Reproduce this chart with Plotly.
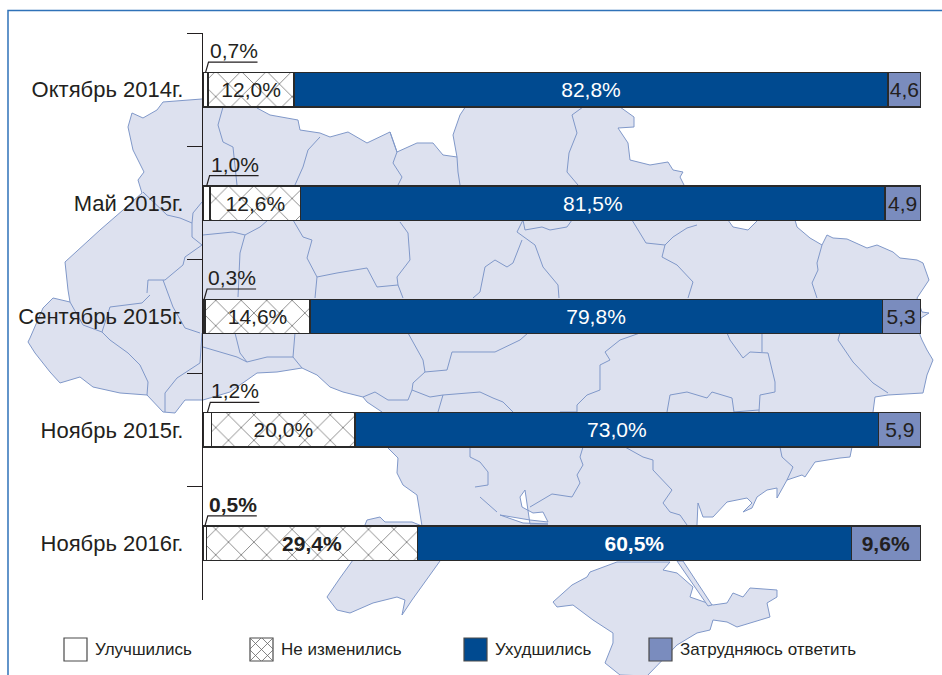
import plotly.graph_objects as go

# ---------- chart data ----------
periods = ["Октябрь 2014г.", "Май 2015г.", "Сентябрь 2015г.", "Ноябрь 2015г.", "Ноябрь 2016г."]
improved = [0.7, 1.0, 0.3, 1.2, 0.5]
unchanged = [12.0, 12.6, 14.6, 20.0, 29.4]
worsened = [82.8, 81.5, 79.8, 73.0, 60.5]
undecided = [4.6, 4.9, 5.3, 5.9, 9.6]
improved_text = ["0,7%", "1,0%", "0,3%", "1,2%", "<b>0,5%</b>"]
unchanged_text = ["12,0%", "12,6%", "14,6%", "20,0%", "<b>29,4%</b>"]
worsened_text = ["82,8%", "81,5%", "79,8%", "73,0%", "<b>60,5%</b>"]
undecided_text = ["4,6", "4,9", "5,3", "5,9", "<b>9,6%</b>"]
legend_names = ["Улучшились", "Не изменились", "Ухудшились", "Затрудняюсь ответить"]

# ---------- decorative background map, page pixels ----------
MAP_MAIN = [(202,99),(223,92),(257,100),(257,108),(270,115),(298,120),(300,130),(320,133),(330,137),(348,132),(367,143),
 (390,132),(397,152),(417,143),(433,143),(443,155),(457,157),(453,135),(460,115),(470,100),(600,90),(620,107),(634,117),
 (634,127),(618,128),(628,143),(630,160),(650,165),(668,162),(673,170),(683,172),(680,177),(684,185),(700,205),(728,220),
 (733,227),(748,230),(758,220),(795,220),(797,227),(810,238),(822,245),(827,235),(833,238),(847,239),(867,248),(877,245),
 (893,252),(900,258),(917,260),(923,263),(929,280),(917,298),(922,312),(929,313),(921,318),(920,335),(922,340),(927,350),
 (933,360),(927,375),(923,393),(888,395),(875,397),(873,412),(860,430),(852,447),(850,457),(840,458),(815,462),(805,477),
 (802,475),(787,480),(777,498),(777,488),(767,490),(757,497),(752,508),(743,512),(752,503),(747,498),(727,502),(713,517),
 (703,517),(698,503),(697,525),(697,540),(445,545),(440,561),(412,600),(402,615),(405,600),(397,597),(373,603),(350,613),
 (337,610),(327,597),(340,578),(353,560),(363,530),(367,520),(380,517),(385,522),(395,522),(412,522),(422,526),(417,495),
 (403,485),(397,473),(398,458),(387,447),(382,412),(367,402),(363,397),(343,392),(330,387),(317,375),(302,368),(277,372),
 (257,373),(230,392),(203,400),(185,400),(175,413),(163,412),(147,395),(120,393),(93,387),(80,377),(60,383),(50,372),
 (35,353),(28,342),(30,338),(43,308),(53,298),(70,302),(68,290),(65,262),(100,230),(123,210),(142,193),(138,180),(144,172),
 (133,150),(128,127),(132,113),(143,118),(157,110),(163,102)]
MAP_CRIMEA = [(617,562),(590,572),(587,577),(572,585),(553,602),(557,607),(573,605),(593,620),(613,633),(613,643),(605,663),
 (620,675),(647,676),(677,645),(697,633),(710,630),(713,620),(727,622),(737,627),(770,617),(767,603),(777,597),(777,590),
 (750,588),(743,597),(733,593),(727,603),(713,605),(690,597),(693,587),(677,573),(663,570),(670,562)]
MAP_SPIT = [(677,561),(683,561),(712,605),(708,606)]
MAP_BAY = [(525,490),(520,497),(522,507),(533,513),(543,512),(548,522),(530,520),(500,515),(523,523),(548,524),(530,524)]
MAP_BORDERS = [
 [(223,107),(218,125),(223,142),(233,147),(237,185)],
 [(320,137),(308,150),(303,167),(295,185)],
 [(390,132),(397,152),(393,163),(402,177),(398,185)],
 [(457,157),(458,172),(460,185)],
 [(583,107),(572,115),(577,133),(569,153),(567,172),(578,185)],
 [(203,235),(233,232),(245,235),(260,227),(268,220)],
 [(245,235),(240,253),(238,297)],
 [(293,220),(303,237),(312,240),(307,258),(317,277),(315,298)],
 [(317,277),(337,273),(367,268),(377,287),(398,285),(403,298)],
 [(400,222),(408,233),(410,260),(397,277),(398,285)],
 [(143,192),(167,215),(180,218),(192,223),(192,237),(202,245),(185,257),(183,265),(165,280),(148,280),(147,293)],
 [(192,223),(193,213),(202,202)],
 [(163,280),(173,307),(185,328),(200,333)],
 [(70,302),(83,325),(102,332),(110,307),(142,303),(150,295)],
 [(102,332),(110,340),(128,353),(140,365),(148,382),(147,395)],
 [(165,412),(165,393),(177,378),(200,363),(202,333)],
 [(203,347),(237,357),(247,362),(267,357),(293,357),(302,368)],
 [(235,333),(240,353),(247,362)],
 [(295,333),(293,357)],
 [(408,333),(423,360),(425,372),(413,383),(412,390),(408,400),(388,400),(375,392),(363,397)],
 [(425,372),(447,370),(452,352),(495,352),(520,340),(528,333)],
 [(412,390),(430,397),(443,395),(438,412)],
 [(443,395),(480,392),(493,398),(503,402),(513,412)],
 [(640,333),(620,340),(605,352),(610,360),(600,365),(600,390),(587,395),(577,405),(577,412),(560,412)],
 [(727,333),(730,340),(743,358),(750,352),(768,353),(775,382),(775,392),(760,395),(759,412)],
 [(762,333),(762,352)],
 [(667,412),(670,395),(687,392),(707,398),(712,392),(732,398),(734,412),(759,410)],
 [(840,333),(838,340),(853,362),(873,383),(888,393)],
 [(583,447),(580,457),(583,465),(577,475),(580,483),(572,497),(552,494),(530,507)],
 [(625,447),(643,457),(653,460),(653,470),(672,490),(663,503),(670,512),(680,515),(687,525)],
 [(780,447),(782,457),(793,467),(787,480)],
 [(470,447),(470,457),(480,462),(488,472),(488,485),(475,487)],
 [(480,497),(497,512)],
 [(523,220),(517,232),(535,245),(543,267),(558,285),(559,298)],
 [(523,220),(525,230),(542,227),(550,230),(567,227),(572,220)],
 [(522,240),(513,263),(507,267),(495,260),(485,267),(480,292),(473,298)],
 [(632,220),(646,243),(665,245),(662,257),(677,265),(693,282),(688,298)],
 [(665,245),(673,237),(687,228),(697,225)],
 [(822,245),(817,263),(818,270),(812,283),(817,298)],
]

# ---------- layout geometry, page pixels ----------
W, H = 942, 675
L, R, T, B = 203, 921, 33, 600
def px(x): return (x - L) / (R - L)
def py(y): return 1 - (y - T) / (B - T)
def poly(points, close=True):
    d = "M" + " L".join(f"{px(x):.5f},{py(y):.5f}" for x, y in points)
    return d + (" Z" if close else "")

INK = "#231f20"
BLUE = "#004a90"
LIGHT = "#7a8cbe"
HATCH = "#666666"
MAP_FILL = "#dde1ef"
MAP_LINE = "#8098c9"
FONT = "Liberation Sans"
hatch = dict(shape="x", size=18, solidity=0.08, fgcolor=HATCH, bgcolor="white", fillmode="replace")

fig = go.Figure()
series = [
    (legend_names[0], improved, None, dict(color="white"), INK),
    (legend_names[1], unchanged, unchanged_text, dict(color="white", pattern=hatch), INK),
    (legend_names[2], worsened, worsened_text, dict(color=BLUE), "white"),
    (legend_names[3], undecided, undecided_text, dict(color=LIGHT), INK),
]
for name, vals, txt, marker, tc in series:
    fig.add_trace(go.Bar(
        name=name, y=periods, x=vals, orientation="h", width=0.304,
        marker=dict(line=dict(color="#2a2a2a", width=1.4), **marker),
        text=txt, textposition="inside" if txt else "none", insidetextanchor="middle",
        textangle=0, constraintext="none", cliponaxis=False,
        textfont=dict(family=FONT, size=21, color=tc), hoverinfo="skip", showlegend=False,
    ))

shapes = []
for poly_pts in (MAP_MAIN, MAP_CRIMEA, MAP_SPIT):
    shapes.append(dict(type="path", xref="paper", yref="paper", layer="below", path=poly(poly_pts),
                       fillcolor=MAP_FILL, line=dict(color=MAP_LINE, width=1)))
shapes.append(dict(type="path", xref="paper", yref="paper", layer="below", path=poly(MAP_BAY),
                   fillcolor="white", line=dict(color=MAP_LINE, width=1)))
shapes.append(dict(type="path", xref="paper", yref="paper", layer="below",
                   path=" ".join(poly(b, close=False) for b in MAP_BORDERS),
                   line=dict(color=MAP_LINE, width=1)))
# page frame (left and top edges)
shapes.append(dict(type="path", xref="paper", yref="paper", layer="below",
                   path=poly([(8, 676), (8, 10.5), (943, 10.5)], close=False),
                   line=dict(color="#2f72b8", width=1.5)))

annotations = []
# leader lines + labels for the tiny first segment
for cat, v, t in zip(periods, improved, improved_text):
    shapes.append(dict(type="path", xref="x", yref="y", xsizemode="pixel", ysizemode="pixel",
                       xanchor=v / 2, yanchor=cat, path="M0,17 L3,27.5 L52,27.5",
                       line=dict(color=INK, width=1.2), layer="above"))
    annotations.append(dict(xref="x", yref="y", x=v / 2, y=cat, text=t, showarrow=False, xanchor="left",
                            yanchor="middle", xshift=2, yshift=39,
                            font=dict(family=FONT, size=21, color=INK)))

# hand-built legend
legend_y0, legend_y1 = 638, 661
legend_x = [64, 250, 464, 649]
legend_fill = ["white", "white", BLUE, LIGHT]
for x0, name, fill in zip(legend_x, legend_names, legend_fill):
    shapes.append(dict(type="rect", xref="paper", yref="paper", x0=px(x0), x1=px(x0 + 23), y0=py(legend_y1), y1=py(legend_y0),
                       fillcolor=fill, line=dict(color="#4a4a4a", width=1.2)))
    annotations.append(dict(xref="paper", yref="paper", x=px(x0 + 29), y=py(649.5), text=name, showarrow=False,
                            xanchor="left", yanchor="middle",
                            font=dict(family=FONT, size=17, color=INK)))
hx = legend_x[1]
cross = []
for k in (-12, 0, 12):
    cross.append(poly([(hx + max(k, 0), legend_y0 + max(-k, 0)), (hx + min(k + 23, 23), legend_y0 + 23 - max(k, 0))], close=False))
    cross.append(poly([(hx + 23 - max(k, 0), legend_y0 + max(-k, 0)), (hx + 23 - min(k + 23, 23), legend_y0 + 23 - max(k, 0))], close=False))
shapes.append(dict(type="path", xref="paper", yref="paper", path=" ".join(cross), line=dict(color=HATCH, width=0.8)))

fig.update_layout(
    width=W, height=H, barmode="stack", bargap=0.7,
    margin=dict(l=L, r=W - R, t=T, b=H - B, autoexpand=False),
    paper_bgcolor="white", plot_bgcolor="rgba(0,0,0,0)",
    shapes=shapes, annotations=annotations, showlegend=False,
    xaxis=dict(range=[0, 100.11], visible=False, fixedrange=True),
    yaxis=dict(categoryorder="array", categoryarray=periods, autorange="reversed", tickson="boundaries",
               ticks="outside", ticklen=15, tickwidth=1.4, tickcolor=INK, showline=True, linecolor=INK, linewidth=1.4,
               ticklabelstandoff=14, showgrid=False, zeroline=False,
               tickfont=dict(family=FONT, size=22, color=INK), fixedrange=True),
)
fig.write_html("out.html", config=dict(displayModeBar=False),
               post_script="document.body.style.margin='0';document.body.style.overflow='hidden';")
